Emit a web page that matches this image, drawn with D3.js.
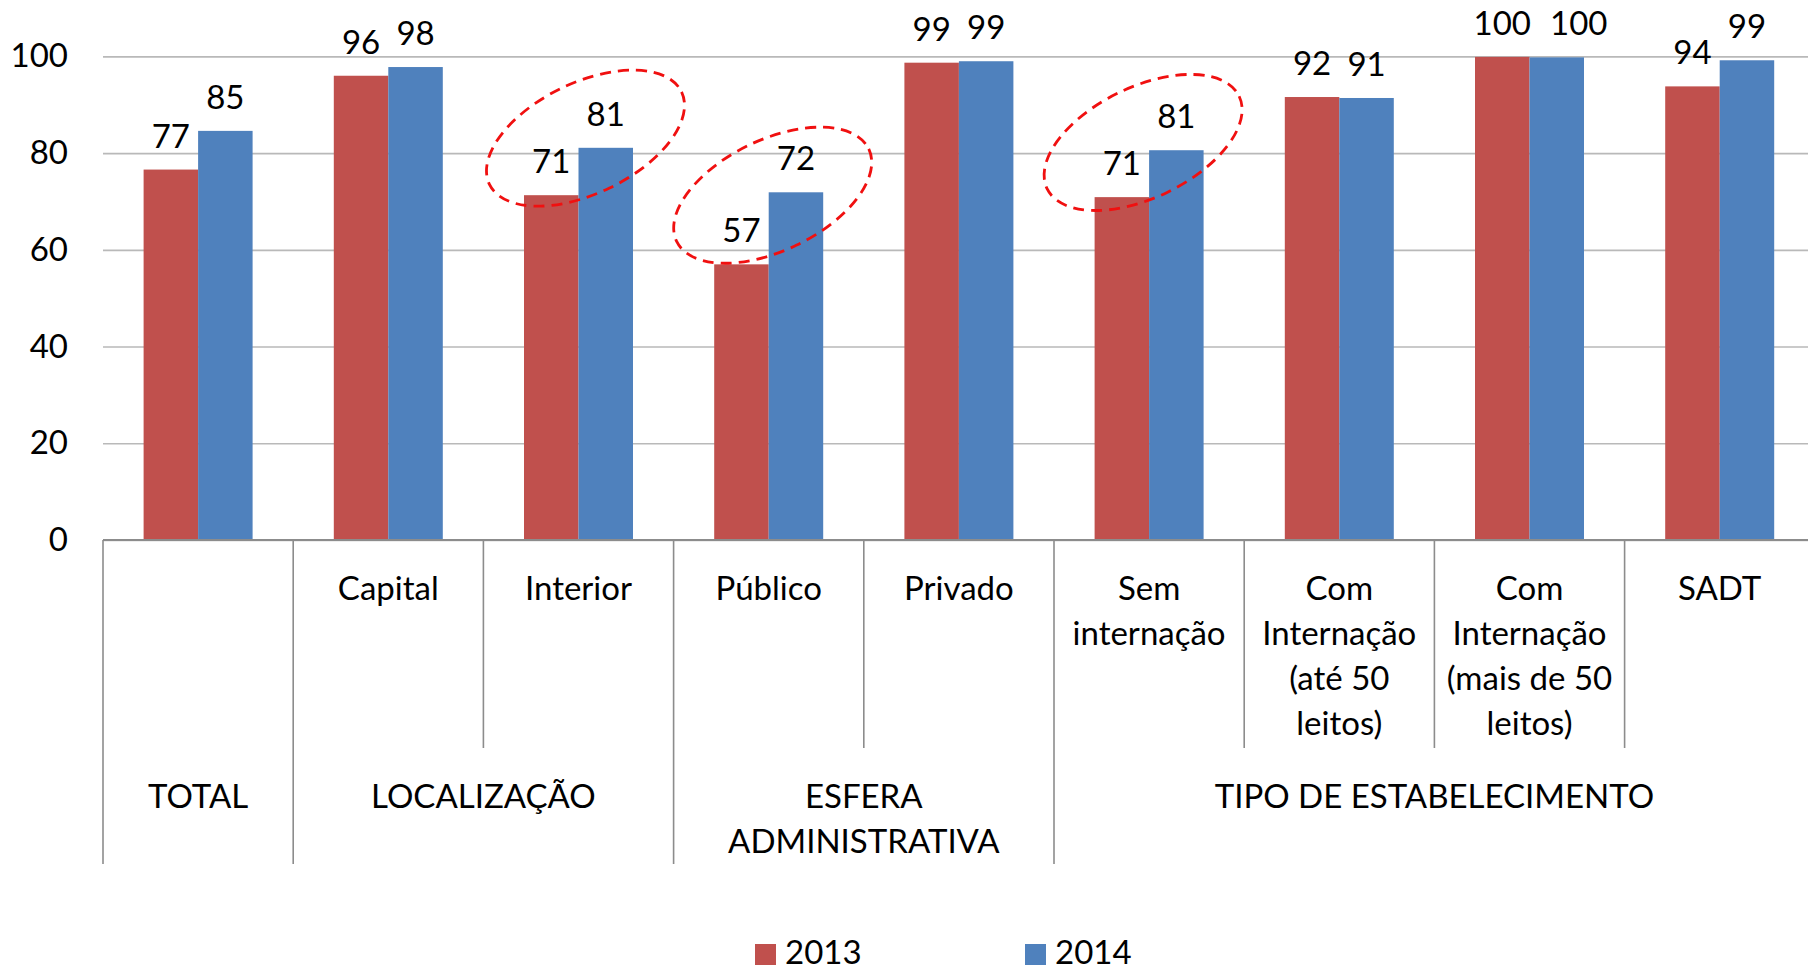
<!DOCTYPE html>
<html>
<head>
<meta charset="utf-8">
<script src="https://cdn.jsdelivr.net/npm/d3@7"></script>
<style>
  body { margin: 0; background: #fff; }
  svg { display: block; font-family: Lato, "Liberation Sans", sans-serif; }
  .lbl { font-size: 33px; fill: #000; }
</style>
</head>
<body>
<svg width="1808" height="968"></svg>
<script>
// data
const categories = ["TOTAL", "Capital", "Interior", "Público", "Privado",
  "Sem internação", "Com Internação (até 50 leitos)", "Com Internação (mais de 50 leitos)", "SADT"];
const subLabels = [[], ["Capital"], ["Interior"], ["Público"], ["Privado"],
  ["Sem", "internação"], ["Com", "Internação", "(até 50", "leitos)"],
  ["Com", "Internação", "(mais de 50", "leitos)"], ["SADT"]];
const groupNames = [["TOTAL"], ["LOCALIZAÇÃO"], ["ESFERA", "ADMINISTRATIVA"], ["TIPO DE ESTABELECIMENTO"]];
const groupSizes = [1, 2, 2, 4];
const years = ["2013", "2014"];
const values2013 = [76.6, 96.0, 71.3, 57.0, 98.7, 70.9, 91.6, 99.9, 93.8];
const values2014 = [84.6, 97.8, 81.1, 71.9, 99.0, 80.6, 91.4, 99.8, 99.2];
const yTicks = [0, 20, 40, 60, 80, 100];
const circled = ["Interior", "Público", "Sem internação"];
const circledCentre = [83.1, 71.3, 82.2];

const colors = {"2013": "#C0504D", "2014": "#4F81BD"};

var svg = d3.select("svg"),
    W = +svg.attr("width");

let x0 = d3.scaleBand().domain(categories).range([103, 103 + 9 * 190.2]);
let x1 = d3.scaleBand().domain(years).range([0, x0.bandwidth()]).paddingOuter(0.745);
let y = d3.scaleLinear().domain([0, 100]).range([540, 56.4]);
let base = y(0);

// gridlines
let grid = svg.append("g")
    .attr("transform", "translate(" + x0.range()[0] + ",0)")
    .call(d3.axisLeft(y).tickValues(yTicks).tickSize(-(W - x0.range()[0])).tickFormat(""));
grid.select(".domain").remove();
grid.selectAll("line").attr("stroke", "#b9b9b9").attr("stroke-width", 1.6);

// y tick labels
let yax = svg.append("g")
    .attr("transform", "translate(68,0)")
    .call(d3.axisLeft(y).tickValues(yTicks).tickSize(0).tickPadding(0));
yax.select(".domain").remove();
yax.selectAll("text").attr("class", "lbl");
yax.attr("font-size", null).attr("font-family", null);

// bars
let rows = categories.map((c, i) => ({cat: c, vals: [
  {year: "2013", v: values2013[i]}, {year: "2014", v: values2014[i]}]}));

let cg = svg.selectAll(".cat")
  .data(rows)
  .enter().append("g")
  .attr("class", "cat")
  .attr("transform", d => "translate(" + x0(d.cat) + ",0)");

cg.selectAll("rect")
  .data(d => d.vals)
  .enter().append("rect")
  .attr("x", d => x1(d.year))
  .attr("y", d => y(d.v))
  .attr("width", x1.bandwidth())
  .attr("height", d => base - y(d.v))
  .attr("fill", d => colors[d.year]);

// the 2014 label over "mais de 50 leitos" was nudged right in the original
let nudge = (cat, yr) => (cat == categories[7] && yr == "2014") ? 22 : 0;

cg.each(function(row) {
  d3.select(this).selectAll(".val")
    .data(row.vals)
    .enter().append("text")
    .attr("class", "lbl val")
    .attr("x", d => x1(d.year) + x1.bandwidth() / 2 + nudge(row.cat, d.year))
    .attr("y", d => y(d.v) - 22)
    .attr("text-anchor", "middle")
    .text(d => Math.round(d.v));
});

// axis line
svg.append("line")
  .attr("x1", x0.range()[0]).attr("x2", W)
  .attr("y1", base).attr("y2", base)
  .attr("stroke", "#8c8c8c").attr("stroke-width", 2);

// separators
let groupEdges = [0];
groupSizes.forEach(s => groupEdges.push(groupEdges[groupEdges.length - 1] + s));
d3.range(categories.length + 1).forEach(k => {
  let xx = k < categories.length ? x0(categories[k]) : x0.range()[1];
  let outer = groupEdges.includes(k);
  svg.append("line")
    .attr("x1", xx).attr("x2", xx)
    .attr("y1", base).attr("y2", outer ? 864 : 748)
    .attr("stroke", "#8c8c8c").attr("stroke-width", 1.6);
});

// sub category labels
categories.forEach((c, i) => {
  let t = svg.append("text").attr("class", "lbl")
    .attr("text-anchor", "middle")
    .attr("x", x0(c) + x0.bandwidth() / 2)
    .attr("y", base + 60);
  subLabels[i].forEach((ln, j) => {
    t.append("tspan").attr("x", x0(c) + x0.bandwidth() / 2)
      .attr("dy", j == 0 ? 0 : 45).text(ln);
  });
});

// group labels
groupNames.forEach((g, i) => {
  let a = x0(categories[groupEdges[i]]);
  let b = groupEdges[i + 1] < categories.length ? x0(categories[groupEdges[i + 1]]) : x0.range()[1];
  let t = svg.append("text").attr("class", "lbl")
    .attr("text-anchor", "middle")
    .attr("x", (a + b) / 2)
    .attr("y", 808);
  g.forEach((ln, j) => {
    t.append("tspan").attr("x", (a + b) / 2).attr("dy", j == 0 ? 0 : 45).text(ln);
  });
});

// dashed ellipses
let shift = {"Interior": 7, "Público": 4, "Sem internação": -6};
circled.forEach((c, i) => {
  let cx = x0(c) + x0.bandwidth() / 2 + shift[c];
  let cy = y(circledCentre[i]);
  svg.append("ellipse")
    .attr("transform", "translate(" + cx + "," + cy + ") rotate(-25.7)")
    .attr("rx", 106.6).attr("ry", 55.4)
    .attr("fill", "none")
    .attr("stroke", "#f01010")
    .attr("stroke-width", 2.8)
    .attr("stroke-dasharray", "11,7");
});

// legend
let legX = {"2013": 755, "2014": 1025};
years.forEach(yr => {
  svg.append("rect").attr("x", legX[yr]).attr("y", 944)
    .attr("width", 21).attr("height", 21).attr("fill", colors[yr]);
  svg.append("text").attr("class", "lbl")
    .attr("x", legX[yr] + 30).attr("y", 964).text(yr);
});
</script>
</body>
</html>
